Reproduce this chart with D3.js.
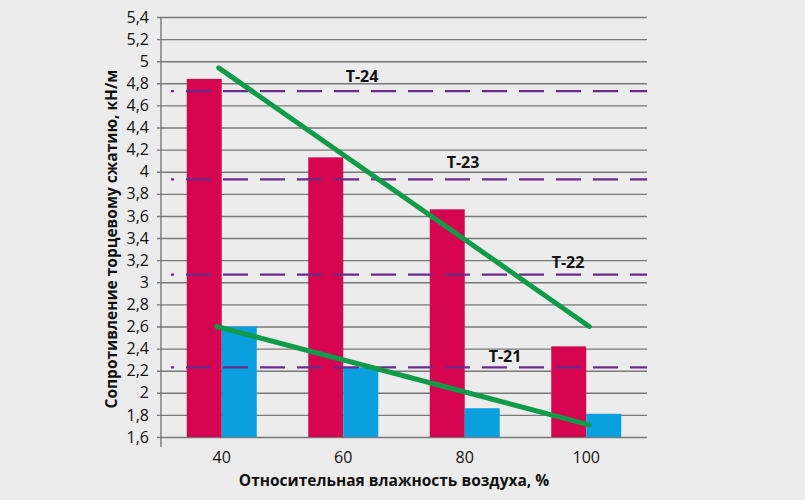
<!DOCTYPE html>
<html>
<head>
<meta charset="utf-8">
<script src="https://cdn.jsdelivr.net/npm/d3@7/dist/d3.min.js"></script>
<style>
  body { margin: 0; background: #ececec; }
  svg { display: block; }
  text { font-family: "Open Sans", "Noto Sans", sans-serif; fill: #111; }
</style>
</head>
<body>
<script>
// humidity categories
var categories = ["40", "60", "80", "100"];
// bar series
var redValues = [4.84, 4.13, 3.66, 2.42];
var blueValues = [2.60, 2.23, 1.86, 1.81];
// y ticks
var yTicks = [1.6, 1.8, 2, 2.2, 2.4, 2.6, 2.8, 3, 3.2, 3.4, 3.6, 3.8, 4, 4.2, 4.4, 4.6, 4.8, 5, 5.2, 5.4];
// board grade thresholds (dashed lines)
var gradeNames = ["T-24", "T-23", "T-22", "T-21"];
var gradeValues = [4.73, 3.93, 3.07, 2.23];
var gradeLabelAt = [4.81, 4.03, 3.13, 2.28];
var gradeLabelX = [362, 463, 568, 505];
// trend lines: [start value at 40, end value at 100]
var trendUpper = [4.94, 2.60];
var trendLower = [2.60, 1.71];

var width = 805, height = 500;
var plotLeft = 161, plotRight = 647, plotTop = 17, plotBottom = 437;

var svg = d3.select("body").append("svg")
    .attr("width", width)
    .attr("height", height);

svg.append("rect")
    .attr("width", width)
    .attr("height", height)
    .attr("fill", "#ececec");

var x = d3.scaleBand()
    .domain(categories)
    .range([plotLeft, plotRight]);

var y = d3.scaleLinear()
    .domain([1.6, 5.4])
    .range([plotBottom, plotTop]);

var barW = 35;

// grid + y axis
var yAxis = d3.axisLeft(y)
    .tickValues(yTicks)
    .tickSize(-(plotRight - plotLeft))
    .tickPadding(12)
    .tickFormat(function (d) { return String(d).replace(".", ","); });

var gy = svg.append("g")
    .attr("transform", "translate(" + plotLeft + ",0)")
    .call(yAxis);
gy.select(".domain").remove();
gy.selectAll(".tick line")
    .attr("x1", -4)
    .attr("stroke", "#787878")
    .attr("stroke-width", 1.4);
gy.selectAll(".tick text")
    .style("font-size", "16px")
    .attr("fill", "#111");

svg.append("line")
    .attr("x1", plotLeft).attr("x2", plotLeft)
    .attr("y1", plotTop).attr("y2", plotBottom + 10)
    .attr("stroke", "#787878")
    .attr("stroke-width", 1.4);

// x labels
var xAxis = d3.axisBottom(x).tickSize(0).tickPadding(15);
var gx = svg.append("g")
    .attr("transform", "translate(0," + plotBottom + ")")
    .call(xAxis);
gx.select(".domain").remove();
gx.selectAll(".tick text")
    .style("font-size", "16px")
    .attr("fill", "#111");

// bars
svg.selectAll(".red")
    .data(redValues)
    .enter()
    .append("rect")
    .attr("class", "red")
    .attr("x", function (d, i) { return x(categories[i]) + x.bandwidth() / 2 - barW; })
    .attr("y", function (d) { return y(d); })
    .attr("width", barW)
    .attr("height", function (d) { return y(1.6) - y(d); })
    .attr("fill", "#d5064f");

svg.selectAll(".blue")
    .data(blueValues)
    .enter()
    .append("rect")
    .attr("class", "blue")
    .attr("x", function (d, i) { return x(categories[i]) + x.bandwidth() / 2; })
    .attr("y", function (d) { return y(d); })
    .attr("width", barW)
    .attr("height", function (d) { return y(1.6) - y(d); })
    .attr("fill", "#0aa0df");

// dashed grade lines
svg.selectAll(".grade")
    .data(gradeValues)
    .enter()
    .append("line")
    .attr("class", "grade")
    .attr("x1", plotLeft + 10)
    .attr("x2", plotRight)
    .attr("y1", function (d) { return y(d); })
    .attr("y2", function (d) { return y(d); })
    .attr("stroke", "#6a2a8e")
    .attr("stroke-width", 2.2)
    .attr("stroke-dasharray", "25,12")
    .attr("stroke-dashoffset", 22);

svg.selectAll(".gradeLabel")
    .data(gradeNames)
    .enter()
    .append("text")
    .attr("class", "gradeLabel")
    .attr("x", function (d, i) { return gradeLabelX[i]; })
    .attr("y", function (d, i) { return y(gradeLabelAt[i]); })
    .attr("text-anchor", "middle")
    .style("font-size", "16px")
    .style("font-weight", "bold")
    .text(function (d) { return d; });

// trend lines
var x0 = x(categories[0]) + x.bandwidth() / 2 - 3;
var x1 = x(categories[3]) + x.bandwidth() / 2 + 3;
[trendUpper, trendLower].forEach(function (t, k) {
    svg.append("line")
        .attr("x1", k === 0 ? x0 : x0 - 2)
        .attr("y1", y(t[0]))
        .attr("x2", x1)
        .attr("y2", y(t[1]))
        .attr("stroke", "#119a48")
        .attr("stroke-width", 5)
        .attr("stroke-linecap", "round");
});

// axis titles
svg.append("text")
    .attr("x", (plotLeft + plotRight) / 2 - 10)
    .attr("y", 486)
    .attr("text-anchor", "middle")
    .style("font-size", "15.5px")
    .style("font-weight", "bold")
    .text("Относительная влажность воздуха, %");

svg.append("text")
    .attr("transform", "translate(117," + 239 + ") rotate(-90)")
    .attr("text-anchor", "middle")
    .style("font-size", "15.5px")
    .style("font-weight", "bold")
    .text("Сопротивление торцевому сжатию, кН/м");
</script>
</body>
</html>
